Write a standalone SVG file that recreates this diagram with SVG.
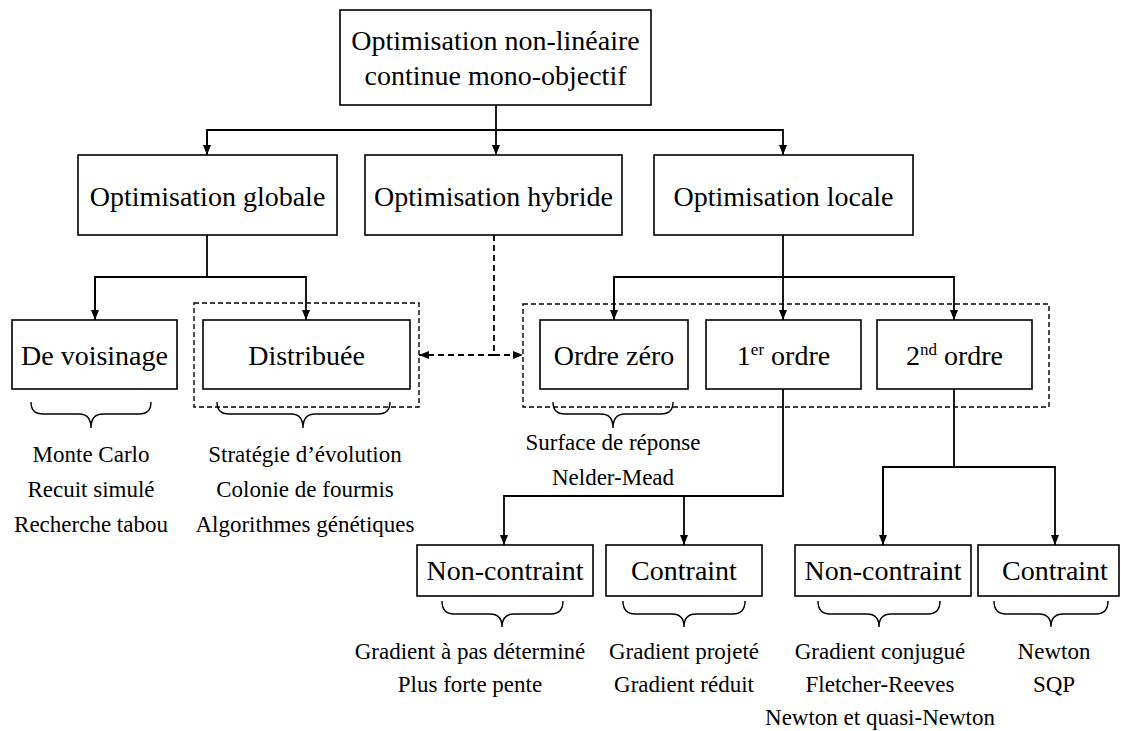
<svg xmlns="http://www.w3.org/2000/svg" width="1121" height="731" viewBox="0 0 1121 731">
<style>
  .box{fill:#fff;stroke:#000;stroke-width:1.6}
  .grp{fill:none;stroke:#000;stroke-width:1.4;stroke-dasharray:5,3}
  .t{font-family:"Liberation Serif","Times New Roman",serif;font-size:28px;fill:#000;text-anchor:middle}
  .s{font-family:"Liberation Serif","Times New Roman",serif;font-size:23px;fill:#000;text-anchor:middle}
  .sup{font-size:17px}
  .ln{fill:none;stroke:#000;stroke-width:1.8}
  .dl{fill:none;stroke:#000;stroke-width:1.8;stroke-dasharray:6,4}
  .br{fill:none;stroke:#000;stroke-width:1.4}
</style>
<defs>
  <marker id="ah" viewBox="0 0 10 10" refX="10" refY="5" markerWidth="10" markerHeight="10" markerUnits="userSpaceOnUse" orient="auto">
    <path d="M0,1 L10,5 L0,9 Z" fill="#000"/>
  </marker>
</defs>

<g id="connectors">
  <path class="ln" d="M496,105 V155" marker-end="url(#ah)"/>
  <path class="ln" d="M207,155 V130 H783 V155" marker-end="url(#ah)"/>
  <path class="ln" d="M207,130 V155" marker-end="url(#ah)"/>
  <path class="ln" d="M207,235 V277"/>
  <path class="ln" d="M95,320 V277 H306 V320" marker-end="url(#ah)"/>
  <path class="ln" d="M95,277 V320" marker-end="url(#ah)"/>
  <path class="ln" d="M783,235 V320" marker-end="url(#ah)"/>
  <path class="ln" d="M614,320 V277 H954 V320" marker-end="url(#ah)"/>
  <path class="ln" d="M614,277 V320" marker-end="url(#ah)"/>
  <path class="dl" d="M494,235 V355"/>
  <path class="dl" d="M494,355 H523" marker-end="url(#ah)"/>
  <path class="dl" d="M494,355 H419" marker-end="url(#ah)"/>
  <path class="ln" d="M783,389 V496 H504 V545" marker-end="url(#ah)"/>
  <path class="ln" d="M684,496 V545" marker-end="url(#ah)"/>
  <path class="ln" d="M954,389 V467"/>
  <path class="ln" d="M883,545 V467 H1055 V545" marker-end="url(#ah)"/>
  <path class="ln" d="M883,467 V545" marker-end="url(#ah)"/>
</g>

<g id="groups">
  <rect class="grp" x="194" y="303" width="225" height="104"/>
  <rect class="grp" x="523" y="304" width="526" height="103"/>
</g>

<g id="root">
  <rect class="box" x="340" y="10" width="311" height="95"/>
  <text class="t" x="495.5" y="50">Optimisation non-linéaire</text>
  <text class="t" x="495.5" y="85">continue mono-objectif</text>
</g>

<g id="globale">
  <rect class="box" x="78" y="155" width="259" height="80"/>
  <text class="t" x="207.5" y="206">Optimisation globale</text>
</g>
<g id="hybride">
  <rect class="box" x="365" y="155" width="257" height="80"/>
  <text class="t" x="493.5" y="206">Optimisation hybride</text>
</g>
<g id="locale">
  <rect class="box" x="654" y="155" width="259" height="80"/>
  <text class="t" x="783.5" y="206">Optimisation locale</text>
</g>

<g id="voisinage">
  <rect class="box" x="12" y="320" width="165" height="69"/>
  <text class="t" x="94.5" y="365">De voisinage</text>
</g>
<g id="distribuee">
  <rect class="box" x="203" y="320" width="207" height="69"/>
  <text class="t" x="306.5" y="365">Distribuée</text>
</g>
<g id="ordre0">
  <rect class="box" x="540" y="320" width="148" height="69"/>
  <text class="t" x="614" y="365">Ordre zéro</text>
</g>
<g id="ordre1">
  <rect class="box" x="706" y="320" width="155" height="69"/>
  <text class="t" x="783.5" y="365">1<tspan class="sup" dy="-10">er</tspan><tspan dy="10"> ordre</tspan></text>
</g>
<g id="ordre2">
  <rect class="box" x="877" y="320" width="155" height="69"/>
  <text class="t" x="954.5" y="365">2<tspan class="sup" dy="-10">nd</tspan><tspan dy="10"> ordre</tspan></text>
</g>

<g id="nc1">
  <rect class="box" x="417" y="545" width="176" height="51"/>
  <text class="t" x="505" y="580">Non-contraint</text>
</g>
<g id="c1">
  <rect class="box" x="606" y="545" width="156" height="51"/>
  <text class="t" x="684" y="580">Contraint</text>
</g>
<g id="nc2">
  <rect class="box" x="795" y="545" width="176" height="51"/>
  <text class="t" x="883" y="580">Non-contraint</text>
</g>
<g id="c2">
  <rect class="box" x="978" y="545" width="141" height="51"/>
  <text class="t" x="1055" y="580">Contraint</text>
</g>

<g id="braces">
  <path class="br" d="M31,402 Q31,414 43,414 H79 Q91,414 91,428 Q91,414 103,414 H139 Q151,414 151,402"/>
  <path class="br" d="M217,402 Q217,414 229,414 H291 Q303,414 303,428 Q303,414 315,414 H378 Q390,414 390,402"/>
  <path class="br" d="M553,402 Q553,414 565,414 H601 Q613,414 613,428 Q613,414 625,414 H661 Q673,414 673,402"/>
  <path class="br" d="M442,601 Q442,614 454,614 H490 Q502,614 502,627 Q502,614 514,614 H551 Q563,614 563,601"/>
  <path class="br" d="M623,601 Q623,614 635,614 H672 Q684,614 684,627 Q684,614 696,614 H733 Q745,614 745,601"/>
  <path class="br" d="M818,601 Q818,614 830,614 H867 Q879,614 879,627 Q879,614 891,614 H928 Q940,614 940,601"/>
  <path class="br" d="M994,601 Q994,614 1006,614 H1039 Q1051,614 1051,627 Q1051,614 1063,614 H1096 Q1108,614 1108,601"/>
</g>

<g id="lists">
  <text class="s" x="91" y="462">Monte Carlo</text>
  <text class="s" x="91" y="497">Recuit simulé</text>
  <text class="s" x="91" y="532">Recherche tabou</text>
  <text class="s" x="305" y="462">Stratégie d’évolution</text>
  <text class="s" x="305" y="497">Colonie de fourmis</text>
  <text class="s" x="305" y="532">Algorithmes génétiques</text>
  <text class="s" x="613" y="450">Surface de réponse</text>
  <text class="s" x="613" y="485">Nelder-Mead</text>
  <text class="s" x="470" y="659">Gradient à pas déterminé</text>
  <text class="s" x="470" y="692">Plus forte pente</text>
  <text class="s" x="684" y="659">Gradient projeté</text>
  <text class="s" x="684" y="692">Gradient réduit</text>
  <text class="s" x="880" y="659">Gradient conjugué</text>
  <text class="s" x="880" y="692">Fletcher-Reeves</text>
  <text class="s" x="880" y="725">Newton et quasi-Newton</text>
  <text class="s" x="1054" y="659">Newton</text>
  <text class="s" x="1054" y="692">SQP</text>
</g>
</svg>
